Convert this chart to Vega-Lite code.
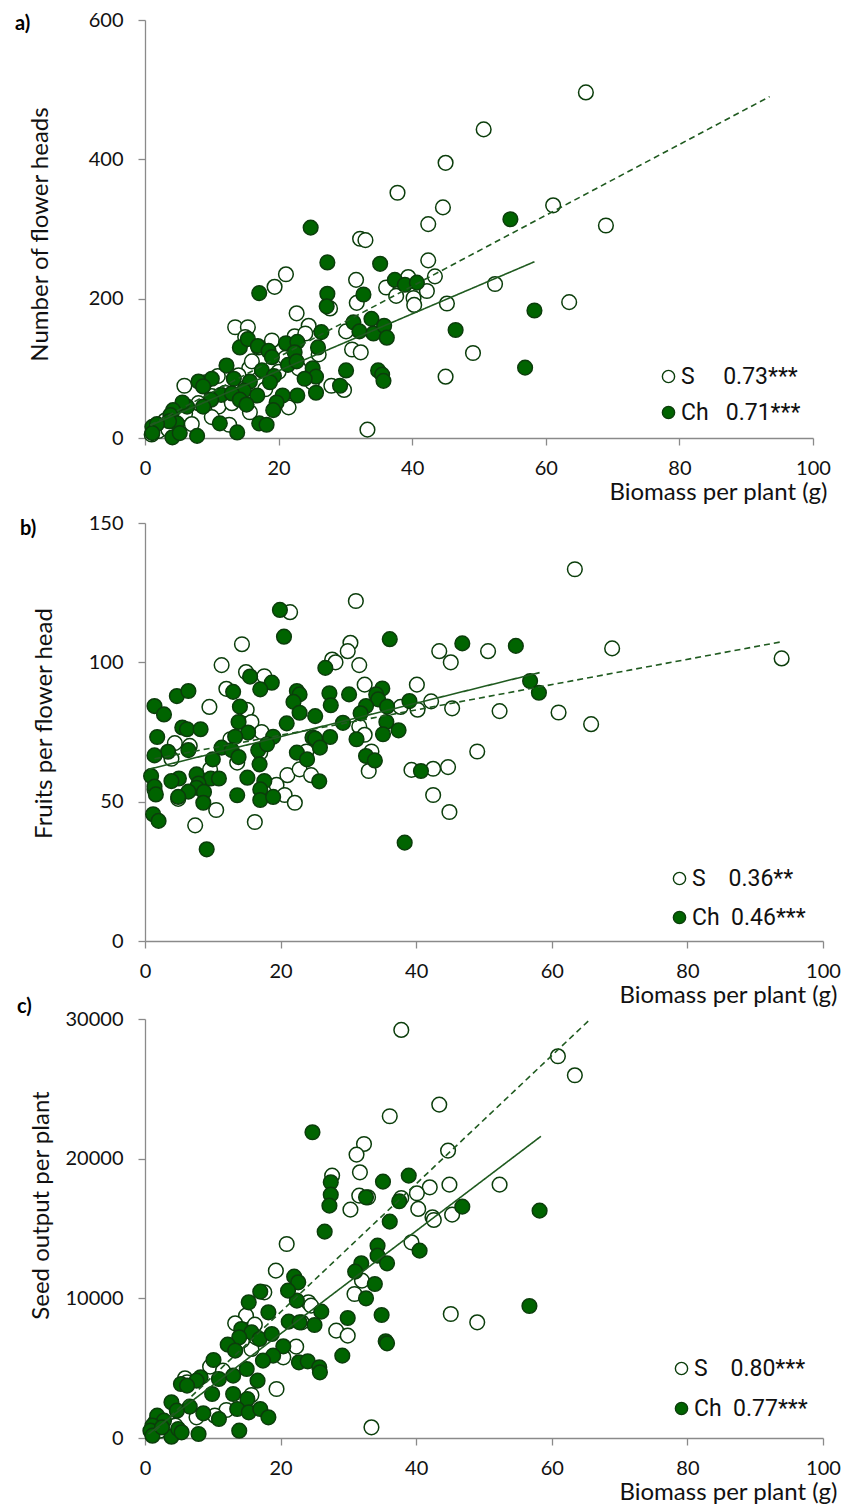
{
  "$schema": "https://vega.github.io/schema/vega-lite/v6.json",
  "padding": {"top": 10, "left": 15, "right": 0, "bottom": 0},
  "background": "white",
  "config": {
    "font": "Lato",
    "view": {"stroke": null},
    "axis": {"grid": false, "domainColor": "#8a8a8a", "domainWidth": 1.3, "tickColor": "#8a8a8a", "tickWidth": 1.3, "tickSize": 7, "labelColor": "#111111", "labelFont": "Lato", "labelFontSize": 20, "titleFont": "Lato", "titleFontSize": 24, "titleFontWeight": "normal", "titleColor": "#111111"},
    "axisX": {"labelPadding": 13, "titleAnchor": "end", "titleAlign": "right", "titlePadding": 2, "labelFlush": false},
    "axisY": {"labelPadding": 15, "titleBaseline": "middle", "titleAlign": "center", "titleAngle": 270},
    "legend": {"labelFont": "Roboto", "labelFontSize": 23, "labelColor": "#111111", "symbolType": "circle", "symbolSize": 150, "symbolStrokeColor": "#0b3d0b", "symbolStrokeWidth": 1.4, "labelOffset": 1, "padding": 0, "orient": "none"},
    "title": {"font": "Lato", "fontSize": 20, "fontWeight": "bold", "color": "#000000"}
  },
  "datasets": {
    "a_pts": [
      {"g":"S","x":66,"y":496},{"g":"S","x":50.7,"y":443},{"g":"S","x":45,"y":395},{"g":"S","x":37.8,"y":352},{"g":"S","x":44.6,"y":331},{"g":"S","x":61.1,"y":334},{"g":"S","x":69,"y":305},{"g":"S","x":42.4,"y":307},{"g":"S","x":32.2,"y":286},{"g":"S","x":33,"y":284},{"g":"S","x":42.4,"y":255},{"g":"S","x":21.1,"y":235},{"g":"S","x":19.4,"y":217},{"g":"S","x":31.6,"y":227},{"g":"S","x":39.4,"y":231},{"g":"S","x":43.4,"y":232},{"g":"S","x":36.1,"y":216},{"g":"S","x":37.6,"y":204},{"g":"S","x":40.2,"y":201},{"g":"S","x":40.3,"y":191},{"g":"S","x":42.2,"y":211},{"g":"S","x":45.2,"y":193},{"g":"S","x":52.4,"y":221},{"g":"S","x":63.5,"y":195},{"g":"S","x":31.7,"y":194},{"g":"S","x":27.7,"y":186},{"g":"S","x":22.7,"y":179},{"g":"S","x":24.5,"y":161},{"g":"S","x":13.5,"y":159},{"g":"S","x":15.4,"y":159},{"g":"S","x":30.1,"y":153},{"g":"S","x":31,"y":127},{"g":"S","x":32.3,"y":123},{"g":"S","x":49.1,"y":122},{"g":"S","x":45,"y":88},{"g":"S","x":33.3,"y":12},{"g":"S","x":5.9,"y":75},{"g":"S","x":27.9,"y":75},{"g":"S","x":29.8,"y":69},{"g":"S","x":15.6,"y":100},{"g":"S","x":21.5,"y":44},{"g":"S","x":12.6,"y":19},{"g":"S","x":22.4,"y":146},{"g":"S","x":15.7,"y":37},{"g":"S","x":2,"y":10},{"g":"S","x":3,"y":25},{"g":"S","x":4,"y":30},{"g":"S","x":6,"y":35},{"g":"S","x":8,"y":50},{"g":"S","x":9,"y":80},{"g":"S","x":10,"y":60},{"g":"S","x":11,"y":45},{"g":"S","x":12,"y":65},{"g":"S","x":14,"y":90},{"g":"S","x":16,"y":110},{"g":"S","x":17,"y":130},{"g":"S","x":18,"y":70},{"g":"S","x":20,"y":95},{"g":"S","x":21,"y":115},{"g":"S","x":23,"y":100},{"g":"S","x":19,"y":140},{"g":"S","x":7,"y":20},{"g":"S","x":10,"y":30},{"g":"S","x":13,"y":50},{"g":"S","x":15,"y":145},{"g":"S","x":24,"y":150},{"g":"S","x":26,"y":120},{"g":"S","x":25,"y":80},{"g":"S","x":10.9,"y":89},{"g":"S","x":1,"y":5},{"g":"S","x":3.5,"y":12},
      {"g":"Ch","x":24.8,"y":302},{"g":"Ch","x":27.3,"y":252},{"g":"Ch","x":35.2,"y":250},{"g":"Ch","x":17.1,"y":208},{"g":"Ch","x":27.3,"y":207},{"g":"Ch","x":27.2,"y":189},{"g":"Ch","x":32.7,"y":206},{"g":"Ch","x":37.4,"y":227},{"g":"Ch","x":38.9,"y":220},{"g":"Ch","x":40.7,"y":223},{"g":"Ch","x":46.5,"y":155},{"g":"Ch","x":31.2,"y":166},{"g":"Ch","x":33.9,"y":171},{"g":"Ch","x":32.1,"y":153},{"g":"Ch","x":34.2,"y":150},{"g":"Ch","x":35.8,"y":161},{"g":"Ch","x":36.2,"y":144},{"g":"Ch","x":34.9,"y":97},{"g":"Ch","x":35.5,"y":91},{"g":"Ch","x":35.7,"y":82},{"g":"Ch","x":30.1,"y":97},{"g":"Ch","x":29.2,"y":75},{"g":"Ch","x":26.4,"y":152},{"g":"Ch","x":25.9,"y":130},{"g":"Ch","x":25.1,"y":100},{"g":"Ch","x":25.6,"y":88},{"g":"Ch","x":23.9,"y":85},{"g":"Ch","x":25.6,"y":65},{"g":"Ch","x":22.8,"y":61},{"g":"Ch","x":20.6,"y":61},{"g":"Ch","x":19.7,"y":51},{"g":"Ch","x":19.2,"y":40},{"g":"Ch","x":21.1,"y":136},{"g":"Ch","x":22.8,"y":138},{"g":"Ch","x":22.4,"y":123},{"g":"Ch","x":21.4,"y":105},{"g":"Ch","x":22.7,"y":110},{"g":"Ch","x":14.2,"y":130},{"g":"Ch","x":15.4,"y":142},{"g":"Ch","x":16.9,"y":132},{"g":"Ch","x":18.5,"y":125},{"g":"Ch","x":19,"y":116},{"g":"Ch","x":12.2,"y":104},{"g":"Ch","x":17.5,"y":97},{"g":"Ch","x":19.3,"y":89},{"g":"Ch","x":13.3,"y":85},{"g":"Ch","x":15.7,"y":81},{"g":"Ch","x":14.8,"y":68},{"g":"Ch","x":16.8,"y":61},{"g":"Ch","x":18.7,"y":80},{"g":"Ch","x":10,"y":85},{"g":"Ch","x":8,"y":81},{"g":"Ch","x":8.7,"y":74},{"g":"Ch","x":11.4,"y":62},{"g":"Ch","x":13,"y":64},{"g":"Ch","x":14.2,"y":55},{"g":"Ch","x":15.2,"y":48},{"g":"Ch","x":9.9,"y":55},{"g":"Ch","x":8.7,"y":45},{"g":"Ch","x":6.3,"y":45},{"g":"Ch","x":5.6,"y":51},{"g":"Ch","x":4.2,"y":40},{"g":"Ch","x":3.8,"y":33},{"g":"Ch","x":4.8,"y":21},{"g":"Ch","x":3.6,"y":24},{"g":"Ch","x":11.2,"y":21},{"g":"Ch","x":13.8,"y":8},{"g":"Ch","x":17.1,"y":21},{"g":"Ch","x":18.2,"y":19},{"g":"Ch","x":7.8,"y":3},{"g":"Ch","x":1.1,"y":16},{"g":"Ch","x":1.8,"y":20},{"g":"Ch","x":1.1,"y":7},{"g":"Ch","x":4.1,"y":1},{"g":"Ch","x":5.2,"y":7},{"g":"Ch","x":54.7,"y":314},{"g":"Ch","x":58.3,"y":183},{"g":"Ch","x":56.9,"y":101}
    ],
    "a_lines": [
      {"g":"S","x":0.8,"y":18.6},{"g":"S","x":93.5,"y":490},{"g":"Ch","x":0.8,"y":18},{"g":"Ch","x":58.3,"y":253}
    ],
    "b_pts": [
      {"g":"S","x":63.4,"y":133.4},{"g":"S","x":31.1,"y":122},{"g":"S","x":21.4,"y":118},{"g":"S","x":14.3,"y":106.5},{"g":"S","x":30.3,"y":107},{"g":"S","x":29.9,"y":104},{"g":"S","x":27.6,"y":101},{"g":"S","x":28.1,"y":100},{"g":"S","x":43.4,"y":104},{"g":"S","x":45.1,"y":100},{"g":"S","x":50.6,"y":104},{"g":"S","x":68.9,"y":105},{"g":"S","x":93.9,"y":101.4},{"g":"S","x":11.3,"y":99},{"g":"S","x":31.6,"y":99},{"g":"S","x":14.9,"y":96.5},{"g":"S","x":17.6,"y":95},{"g":"S","x":32.4,"y":92},{"g":"S","x":40.1,"y":92},{"g":"S","x":12,"y":90.5},{"g":"S","x":9.5,"y":84},{"g":"S","x":37.7,"y":84},{"g":"S","x":40.2,"y":83},{"g":"S","x":42.2,"y":86},{"g":"S","x":45.3,"y":83.5},{"g":"S","x":52.3,"y":82.5},{"g":"S","x":61,"y":82},{"g":"S","x":65.8,"y":77.8},{"g":"S","x":15,"y":83},{"g":"S","x":15.7,"y":78.6},{"g":"S","x":17.2,"y":75},{"g":"S","x":31.6,"y":77},{"g":"S","x":32.4,"y":74},{"g":"S","x":4.4,"y":71},{"g":"S","x":49,"y":68},{"g":"S","x":33.4,"y":68},{"g":"S","x":23.8,"y":68},{"g":"S","x":39.3,"y":61.4},{"g":"S","x":42.5,"y":61.8},{"g":"S","x":44.7,"y":62.4},{"g":"S","x":33,"y":61},{"g":"S","x":21,"y":59.5},{"g":"S","x":22.8,"y":61.6},{"g":"S","x":24.5,"y":59.5},{"g":"S","x":19.4,"y":56},{"g":"S","x":20.6,"y":52.4},{"g":"S","x":22.1,"y":49.6},{"g":"S","x":42.5,"y":52.4},{"g":"S","x":10.5,"y":47},{"g":"S","x":44.9,"y":46.3},{"g":"S","x":7.4,"y":41.5},{"g":"S","x":16.2,"y":42.7},{"g":"S","x":1.4,"y":54.4},{"g":"S","x":4.9,"y":51},{"g":"S","x":3.9,"y":65.4},{"g":"S","x":9.6,"y":61.6},{"g":"S","x":12.6,"y":72.4},{"g":"S","x":17,"y":67.6},{"g":"S","x":13.6,"y":64},{"g":"S","x":6.6,"y":70},
      {"g":"Ch","x":19.9,"y":118.8},{"g":"Ch","x":20.5,"y":109.2},{"g":"Ch","x":36.1,"y":108.3},{"g":"Ch","x":46.8,"y":106.8},{"g":"Ch","x":54.7,"y":105.9},{"g":"Ch","x":26.6,"y":98},{"g":"Ch","x":56.8,"y":93.3},{"g":"Ch","x":58.1,"y":89.1},{"g":"Ch","x":15.5,"y":94.9},{"g":"Ch","x":18.7,"y":92.7},{"g":"Ch","x":17,"y":90.3},{"g":"Ch","x":4.7,"y":87.9},{"g":"Ch","x":6.4,"y":89.7},{"g":"Ch","x":13,"y":89.4},{"g":"Ch","x":22.4,"y":89.7},{"g":"Ch","x":22.8,"y":88.5},{"g":"Ch","x":21.9,"y":85.8},{"g":"Ch","x":27.2,"y":88.9},{"g":"Ch","x":27.4,"y":84.6},{"g":"Ch","x":30.1,"y":88.5},{"g":"Ch","x":35,"y":90.6},{"g":"Ch","x":34.1,"y":88.5},{"g":"Ch","x":34.4,"y":86.7},{"g":"Ch","x":39,"y":86.1},{"g":"Ch","x":32.6,"y":84.3},{"g":"Ch","x":35.7,"y":84.1},{"g":"Ch","x":1.4,"y":84.3},{"g":"Ch","x":2.8,"y":81.3},{"g":"Ch","x":14,"y":84.1},{"g":"Ch","x":25.1,"y":80.7},{"g":"Ch","x":22.8,"y":81.9},{"g":"Ch","x":20.9,"y":78.1},{"g":"Ch","x":31.8,"y":81.7},{"g":"Ch","x":13.8,"y":78.6},{"g":"Ch","x":5.5,"y":76.6},{"g":"Ch","x":6.2,"y":76},{"g":"Ch","x":8.2,"y":76},{"g":"Ch","x":29.2,"y":78.3},{"g":"Ch","x":35.6,"y":78.6},{"g":"Ch","x":37.4,"y":75.6},{"g":"Ch","x":35.1,"y":74.2},{"g":"Ch","x":31.2,"y":72.4},{"g":"Ch","x":15.2,"y":74.8},{"g":"Ch","x":13.3,"y":73.3},{"g":"Ch","x":18.9,"y":73.3},{"g":"Ch","x":24.7,"y":73},{"g":"Ch","x":25.1,"y":72.6},{"g":"Ch","x":27.3,"y":73.2},{"g":"Ch","x":1.8,"y":73.2},{"g":"Ch","x":3.4,"y":67.9},{"g":"Ch","x":1.4,"y":66.6},{"g":"Ch","x":6.4,"y":68.5},{"g":"Ch","x":11.3,"y":69.4},{"g":"Ch","x":12.8,"y":68.5},{"g":"Ch","x":13.8,"y":66},{"g":"Ch","x":16.7,"y":68.5},{"g":"Ch","x":18,"y":70.6},{"g":"Ch","x":25.8,"y":69.4},{"g":"Ch","x":22.4,"y":67.6},{"g":"Ch","x":23.9,"y":65.2},{"g":"Ch","x":32.6,"y":66.4},{"g":"Ch","x":33.9,"y":64.8},{"g":"Ch","x":10,"y":65.2},{"g":"Ch","x":16.9,"y":63.4},{"g":"Ch","x":7.6,"y":59.8},{"g":"Ch","x":5,"y":58.3},{"g":"Ch","x":3.9,"y":57.4},{"g":"Ch","x":9.7,"y":58.3},{"g":"Ch","x":10.9,"y":58.3},{"g":"Ch","x":15.1,"y":58.6},{"g":"Ch","x":17.6,"y":57.4},{"g":"Ch","x":0.9,"y":59.2},{"g":"Ch","x":1.4,"y":55.4},{"g":"Ch","x":25.7,"y":57.3},{"g":"Ch","x":40.7,"y":61},{"g":"Ch","x":7.9,"y":56.5},{"g":"Ch","x":7.6,"y":55},{"g":"Ch","x":8.7,"y":53.5},{"g":"Ch","x":6.4,"y":53.6},{"g":"Ch","x":4.9,"y":51.7},{"g":"Ch","x":8.6,"y":49.6},{"g":"Ch","x":17,"y":54.4},{"g":"Ch","x":17,"y":50.6},{"g":"Ch","x":18.9,"y":51.7},{"g":"Ch","x":13.6,"y":52.3},{"g":"Ch","x":1.6,"y":52.6},{"g":"Ch","x":1.2,"y":45.5},{"g":"Ch","x":2,"y":43.1},{"g":"Ch","x":9.1,"y":32.9},{"g":"Ch","x":38.3,"y":35.3}
    ],
    "b_lines": [
      {"g":"S","x":1.4,"y":65.4},{"g":"S","x":93.7,"y":107.3},{"g":"Ch","x":0.5,"y":61.6},{"g":"Ch","x":58.2,"y":96.3}
    ],
    "c_pts": [
      {"g":"S","x":37.8,"y":29217},{"g":"S","x":60.9,"y":27330},{"g":"S","x":63.4,"y":25970},{"g":"S","x":43.4,"y":23870},{"g":"S","x":36.1,"y":23035},{"g":"S","x":32.3,"y":21053},{"g":"S","x":31.2,"y":20290},{"g":"S","x":44.7,"y":20576},{"g":"S","x":31.7,"y":19024},{"g":"S","x":27.6,"y":18786},{"g":"S","x":44.9,"y":18141},{"g":"S","x":52.3,"y":18141},{"g":"S","x":42,"y":17950},{"g":"S","x":40.1,"y":17521},{"g":"S","x":31.6,"y":17354},{"g":"S","x":32.9,"y":17234},{"g":"S","x":37.8,"y":17186},{"g":"S","x":30.3,"y":16351},{"g":"S","x":40.3,"y":16400},{"g":"S","x":42.4,"y":15802},{"g":"S","x":42.6,"y":15611},{"g":"S","x":45.3,"y":15993},{"g":"S","x":20.9,"y":13892},{"g":"S","x":39.3,"y":14012},{"g":"S","x":19.3,"y":11983},{"g":"S","x":32,"y":11267},{"g":"S","x":30.9,"y":10312},{"g":"S","x":17.6,"y":10431},{"g":"S","x":24.1,"y":9715},{"g":"S","x":24.5,"y":9477},{"g":"S","x":45.1,"y":8880},{"g":"S","x":49,"y":8283},{"g":"S","x":14.9,"y":8760},{"g":"S","x":13.3,"y":8211},{"g":"S","x":16.2,"y":8116},{"g":"S","x":23.1,"y":8283},{"g":"S","x":28.2,"y":7686},{"g":"S","x":29.9,"y":7328},{"g":"S","x":22.3,"y":6540},{"g":"S","x":20.4,"y":5777},{"g":"S","x":15.7,"y":6373},{"g":"S","x":9.6,"y":5108},{"g":"S","x":11.5,"y":4822},{"g":"S","x":5.9,"y":4273},{"g":"S","x":6.2,"y":3986},{"g":"S","x":19.4,"y":3509},{"g":"S","x":15.7,"y":3079},{"g":"S","x":12,"y":2005},{"g":"S","x":10.3,"y":1599},{"g":"S","x":7.6,"y":1480},{"g":"S","x":33.4,"y":764},{"g":"S","x":1.5,"y":1122},{"g":"S","x":2.2,"y":525},{"g":"S","x":4.5,"y":883},{"g":"S","x":14.3,"y":6970},{"g":"S","x":16.4,"y":7209},
      {"g":"Ch","x":24.7,"y":21889},{"g":"Ch","x":38.9,"y":18786},{"g":"Ch","x":35.1,"y":18356},{"g":"Ch","x":27.4,"y":18308},{"g":"Ch","x":27.4,"y":17425},{"g":"Ch","x":27.2,"y":16637},{"g":"Ch","x":32.6,"y":17234},{"g":"Ch","x":37.5,"y":16948},{"g":"Ch","x":46.8,"y":16566},{"g":"Ch","x":58.2,"y":16279},{"g":"Ch","x":36.1,"y":15492},{"g":"Ch","x":26.5,"y":14776},{"g":"Ch","x":34.3,"y":13773},{"g":"Ch","x":34.3,"y":13057},{"g":"Ch","x":40.5,"y":13415},{"g":"Ch","x":31.9,"y":12508},{"g":"Ch","x":35.7,"y":12508},{"g":"Ch","x":31,"y":11911},{"g":"Ch","x":33.9,"y":11028},{"g":"Ch","x":32.6,"y":10002},{"g":"Ch","x":34.9,"y":8808},{"g":"Ch","x":56.7,"y":9453},{"g":"Ch","x":29.9,"y":8593},{"g":"Ch","x":35.5,"y":6922},{"g":"Ch","x":35.7,"y":6779},{"g":"Ch","x":29.1,"y":5896},{"g":"Ch","x":22,"y":11553},{"g":"Ch","x":22.6,"y":11147},{"g":"Ch","x":22.4,"y":9835},{"g":"Ch","x":21.1,"y":10551},{"g":"Ch","x":17,"y":10479},{"g":"Ch","x":15.3,"y":9715},{"g":"Ch","x":18.2,"y":8999},{"g":"Ch","x":26,"y":9047},{"g":"Ch","x":25,"y":8092},{"g":"Ch","x":21.2,"y":8330},{"g":"Ch","x":22.8,"y":8283},{"g":"Ch","x":14.2,"y":7806},{"g":"Ch","x":15.7,"y":7567},{"g":"Ch","x":16.9,"y":7090},{"g":"Ch","x":18.7,"y":7448},{"g":"Ch","x":13.9,"y":7209},{"g":"Ch","x":12.2,"y":6684},{"g":"Ch","x":13.3,"y":6254},{"g":"Ch","x":20.4,"y":6564},{"g":"Ch","x":18.9,"y":5896},{"g":"Ch","x":17.4,"y":5538},{"g":"Ch","x":22.7,"y":5419},{"g":"Ch","x":24,"y":5490},{"g":"Ch","x":25.7,"y":5060},{"g":"Ch","x":25.8,"y":4702},{"g":"Ch","x":10.1,"y":5586},{"g":"Ch","x":8.2,"y":4344},{"g":"Ch","x":7.6,"y":4106},{"g":"Ch","x":5.3,"y":3867},{"g":"Ch","x":6.2,"y":3748},{"g":"Ch","x":15,"y":4941},{"g":"Ch","x":13,"y":4464},{"g":"Ch","x":16.6,"y":4106},{"g":"Ch","x":10.9,"y":4225},{"g":"Ch","x":9.9,"y":3151},{"g":"Ch","x":13,"y":3151},{"g":"Ch","x":15.1,"y":2793},{"g":"Ch","x":6.6,"y":2244},{"g":"Ch","x":8.6,"y":1766},{"g":"Ch","x":10.9,"y":1361},{"g":"Ch","x":13.6,"y":2077},{"g":"Ch","x":15.3,"y":1838},{"g":"Ch","x":17,"y":2077},{"g":"Ch","x":18.2,"y":1480},{"g":"Ch","x":3.9,"y":2554},{"g":"Ch","x":4.7,"y":1957},{"g":"Ch","x":1.8,"y":1599},{"g":"Ch","x":2.8,"y":1241},{"g":"Ch","x":1.1,"y":883},{"g":"Ch","x":0.8,"y":525},{"g":"Ch","x":1.1,"y":167},{"g":"Ch","x":3.9,"y":95},{"g":"Ch","x":4.9,"y":644},{"g":"Ch","x":5.4,"y":406},{"g":"Ch","x":7.9,"y":286},{"g":"Ch","x":13.9,"y":525},{"g":"Ch","x":2.5,"y":764}
    ],
    "c_lines": [
      {"g":"S","x":1.5,"y":525},{"g":"S","x":65.7,"y":30000},{"g":"Ch","x":0.5,"y":286},{"g":"Ch","x":58.4,"y":21603}
    ]
  },
  "bounds": "flush",
  "spacing": 85,
  "resolve": {"scale": {"fill": "independent"}, "legend": {"fill": "independent"}},
  "vconcat": [
    {
      "width": 668, "height": 418,
      "title": {"text": "a)", "anchor": "start", "frame": "group", "orient": "top", "offset": 0, "baseline": "middle", "align": "left", "dx": -130, "dy": 34},
      "layer": [
        {
          "data": {"name": "a_pts"},
          "mark": {"type": "circle", "size": 215, "stroke": "#0b3d0b", "strokeWidth": 1.5, "opacity": 1},
          "encoding": {
            "x": {"field": "x", "type": "quantitative", "scale": {"domain": [0, 100], "nice": false}, "axis": {"values": [0, 20, 40, 60, 80, 100], "title": "Biomass per plant (g)", "titleX": 682}},
            "y": {"field": "y", "type": "quantitative", "scale": {"domain": [0, 600], "nice": false}, "axis": {"values": [0, 200, 400, 600], "title": "Number of flower heads", "titleX": -105, "titleY": 214}},
            "fill": {"field": "g", "type": "nominal", "scale": {"domain": ["S", "Ch"], "range": ["#ffffff", "#006400"]},
              "legend": {"title": null, "orient": "none", "legendX": 512, "legendY": 345, "rowPadding": 12, "labelExpr": "datum.value == 'S' ? 'S\u00a0\u00a0\u00a0\u00a0\u00a00.73***' : 'Ch\u00a0\u00a0\u00a00.71***'"}}
          }
        },
        {
          "data": {"name": "a_lines"},
          "mark": {"type": "line", "color": "#1f5a1f", "strokeWidth": 1.6},
          "encoding": {
            "x": {"field": "x", "type": "quantitative"},
            "y": {"field": "y", "type": "quantitative"},
            "strokeDash": {"field": "g", "type": "nominal", "scale": {"domain": ["S", "Ch"], "range": [[6, 4], [1, 0]]}, "legend": null}
          }
        }
      ]
    },
    {
      "bounds": "flush",
      "spacing": 78,
      "resolve": {"scale": {"fill": "independent"}, "legend": {"fill": "independent"}},
      "vconcat": [
        {
          "width": 678, "height": 418,
          "title": {"text": "b)", "anchor": "start", "frame": "group", "orient": "top", "offset": 0, "baseline": "middle", "align": "left", "dx": -125, "dy": 36},
          "layer": [
            {
              "data": {"name": "b_pts"},
              "mark": {"type": "circle", "size": 215, "stroke": "#0b3d0b", "strokeWidth": 1.5, "opacity": 1},
              "encoding": {
                "x": {"field": "x", "type": "quantitative", "scale": {"domain": [0, 100], "nice": false}, "axis": {"values": [0, 20, 40, 60, 80, 100], "title": "Biomass per plant (g)", "titleX": 692}},
                "y": {"field": "y", "type": "quantitative", "scale": {"domain": [0, 150], "nice": false}, "axis": {"values": [0, 50, 100, 150], "title": "Fruits per flower head", "titleX": -101, "titleY": 200}},
                "fill": {"field": "g", "type": "nominal", "scale": {"domain": ["S", "Ch"], "range": ["#ffffff", "#006400"]},
                  "legend": {"title": null, "orient": "none", "legendX": 523, "legendY": 344, "rowPadding": 15, "labelExpr": "datum.value == 'S' ? 'S\u00a0\u00a0\u00a0\u00a00.36**' : 'Ch\u00a0\u00a00.46***'"}}
              }
            },
            {
              "data": {"name": "b_lines"},
              "mark": {"type": "line", "color": "#1f5a1f", "strokeWidth": 1.6},
              "encoding": {
                "x": {"field": "x", "type": "quantitative"},
                "y": {"field": "y", "type": "quantitative"},
                "strokeDash": {"field": "g", "type": "nominal", "scale": {"domain": ["S", "Ch"], "range": [[6, 4], [1, 0]]}, "legend": null}
              }
            }
          ]
        },
        {
          "width": 678, "height": 419,
          "title": {"text": "c)", "anchor": "start", "frame": "group", "orient": "top", "offset": 0, "baseline": "middle", "align": "left", "dx": -128, "dy": 18},
          "layer": [
            {
              "data": {"name": "c_pts"},
              "mark": {"type": "circle", "size": 215, "stroke": "#0b3d0b", "strokeWidth": 1.5, "opacity": 1},
              "encoding": {
                "x": {"field": "x", "type": "quantitative", "scale": {"domain": [0, 100], "nice": false}, "axis": {"values": [0, 20, 40, 60, 80, 100], "title": "Biomass per plant (g)", "titleX": 692}},
                "y": {"field": "y", "type": "quantitative", "scale": {"domain": [0, 30000], "nice": false}, "axis": {"values": [0, 10000, 20000, 30000], "format": "d", "title": "Seed output per plant", "titleX": -104, "titleY": 186}},
                "fill": {"field": "g", "type": "nominal", "scale": {"domain": ["S", "Ch"], "range": ["#ffffff", "#006400"]},
                  "legend": {"title": null, "orient": "none", "legendX": 525, "legendY": 338, "rowPadding": 16, "labelExpr": "datum.value == 'S' ? 'S\u00a0\u00a0\u00a0\u00a00.80***' : 'Ch\u00a0\u00a00.77***'"}}
              }
            },
            {
              "data": {"name": "c_lines"},
              "mark": {"type": "line", "color": "#1f5a1f", "strokeWidth": 1.6},
              "encoding": {
                "x": {"field": "x", "type": "quantitative"},
                "y": {"field": "y", "type": "quantitative"},
                "strokeDash": {"field": "g", "type": "nominal", "scale": {"domain": ["S", "Ch"], "range": [[6, 4], [1, 0]]}, "legend": null}
              }
            }
          ]
        }
      ]
    }
  ]
}
